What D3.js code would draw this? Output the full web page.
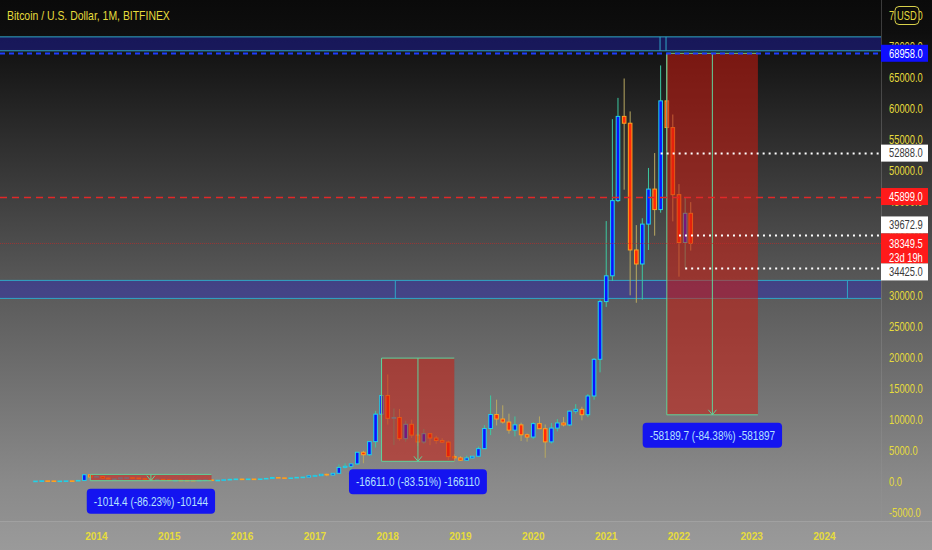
<!DOCTYPE html>
<html>
<head>
<meta charset="utf-8">
<script src="https://cdn.jsdelivr.net/npm/d3@7"></script>
<style>
html, body { margin: 0; padding: 0; background: #0a0a0a; overflow: hidden; }
text { font-family: "Liberation Sans", Arial, sans-serif; }
</style>
</head>
<body>
<svg id="chart" width="932" height="550"></svg>
<script>
/*  BTCUSD monthly, Bitfinex  */
var firstMonth = new Date(2013, 2, 1);   // March 2013, one candle per month after that

// Mar 2013 .. Mar 2022
var opens = [
  34, 93, 139, 129, 97, 106, 135, 133, 204, 1120,
  750, 830, 570, 450, 450, 630, 640, 585, 480, 390, 340, 380,
  320, 220, 255, 245, 235, 230, 263, 285, 230, 236, 315, 378,
  430, 370, 436, 416, 450, 530, 670, 620, 575, 610, 700, 740,
  965, 970, 1190, 1080, 1350, 2300, 2480, 2870, 4740, 4340, 6450, 10870,
  13880, 10200, 10330, 6930, 9240, 7500, 6390, 7730, 7030, 6630, 6370, 4040,
  3830, 3460, 3820, 4100, 5320, 8560, 10820, 10090, 9600, 8300, 9150, 7550,
  7190, 9350, 8530, 6410, 8630, 9450, 9140, 11350, 11650, 10780, 13800, 19700,
  28990, 33140, 45240, 58800, 57700, 37300, 35040, 41460, 47100, 43800, 61300, 57000,
  46200, 38500, 43200
];
var highs = [
  95, 266, 140, 130, 110, 140, 146, 215, 1165, 1176.4,
  1000, 860, 720, 540, 640, 680, 660, 600, 500, 420, 460, 390,
  320, 270, 300, 260, 245, 265, 315, 285, 245, 330, 500, 465,
  460, 440, 440, 465, 550, 780, 680, 630, 620, 720, 750, 980,
  1150, 1200, 1300, 1380, 2790, 2980, 2900, 4760, 4980, 6470, 11400, 19891,
  17250, 11780, 11700, 9800, 9990, 7800, 8500, 7760, 7400, 7000, 6600, 4400,
  4100, 4200, 4150, 5650, 9100, 13880, 13200, 12300, 10950, 10500, 9500, 7750,
  9570, 10500, 9200, 9460, 10070, 10400, 11450, 12480, 12070, 14100, 19900, 29300,
  41950, 58350, 61780, 64900, 59600, 41300, 42400, 50500, 52900, 67000, 68958, 59100,
  47900, 45800, 45000
];
var lows = [
  33, 50, 80, 65, 65, 100, 110, 100, 200, 480,
  740, 430, 440, 340, 425, 550, 560, 430, 370, 280, 320, 300,
  162, 210, 240, 215, 225, 220, 250, 200, 225, 235, 300, 350,
  350, 365, 395, 410, 440, 520, 600, 530, 570, 600, 680, 740,
  750, 920, 890, 1060, 1330, 2100, 1830, 2680, 2970, 4130, 5500, 10800,
  9200, 5900, 6600, 6430, 7050, 5750, 6080, 5880, 6100, 6200, 3500, 3280,
  3350, 3380, 3750, 4050, 5300, 7500, 9050, 9350, 7730, 7300, 6550, 6450,
  6860, 8450, 3850, 6150, 8100, 8900, 8950, 10950, 9880, 10400, 13200, 17600,
  28130, 32300, 45000, 47000, 30000, 28800, 29300, 37300, 39600, 43300, 53300, 41900,
  33000, 34425, 37200
];
var closes = [
  93, 139, 129, 97, 106, 135, 133, 204, 1120, 750,
  830, 570, 450, 450, 630, 640, 585, 480, 390, 340, 380, 320,
  220, 255, 245, 235, 230, 263, 285, 230, 236, 315, 378, 430,
  370, 436, 416, 450, 530, 670, 620, 575, 610, 700, 740, 965,
  970, 1190, 1080, 1350, 2300, 2480, 2870, 4740, 4340, 6450, 10870, 13880,
  10200, 10330, 6930, 9240, 7500, 6390, 7730, 7030, 6630, 6370, 4040, 3830,
  3460, 3820, 4100, 5320, 8560, 10820, 10090, 9600, 8300, 9150, 7550, 7190,
  9350, 8530, 6410, 8630, 9450, 9140, 11350, 11650, 10780, 13800, 19700, 28990,
  33140, 45240, 58800, 57700, 37300, 35040, 41460, 47100, 43800, 61300, 57000, 46200,
  38500, 43200, 38349.5
];

var yearTicks = [2014, 2015, 2016, 2017, 2018, 2019, 2020, 2021, 2022, 2023, 2024];
var priceTicks = [-5000, 0, 5000, 10000, 15000, 20000, 25000, 30000, 35000, 40000,
                  45000, 50000, 55000, 60000, 65000, 70000, 75000];

// drawn price range tools
var rangeFrom = [new Date(2013, 11, 1), new Date(2017, 11, 1), new Date(2021, 10, 1)];
var rangeTo   = [new Date(2015, 7, 1),  new Date(2018, 11, 1), new Date(2023, 1, 1)];
var rangeHigh = [1176.4, 19891, 68958];
var rangeLow  = [162, 3280, 10768.3];

// rectangles (zones)
var zoneLow  = [69355, 29500];
var zoneHigh = [71600, 32400];
var zoneSplits = [[new Date(2021, 8, 28), new Date(2021, 9, 28)], [new Date(2018, 1, 8), new Date(2024, 3, 25)]];

// horizontal levels and their axis tags
var levelValues = [68958, 52888, 45899, 39672.9, 38349.5, 34425];
var levelKinds  = ["ath", "ray", "dash", "ray", "last", "ray"];
var levelFrom   = [null, new Date(2021, 9, 1), null, new Date(2022, 0, 1), null, new Date(2022, 1, 1)];
var timeLeft = "23d 19h";

var svg = d3.select("#chart");
var W = 932, H = 550, axisX = 881, axisY = 521;

var x = d3.scaleTime()
  .domain([new Date(2014, 0, 1), new Date(2024, 0, 1)])
  .range([96.5, 824.5]);
var y = d3.scaleLinear()
  .domain([0, 70000])
  .range([481.7, 46.8]);

function monthDate(i) { return d3.timeMonth.offset(firstMonth, i); }

// squeeze text horizontally around its own anchor, the screenshot font is narrow
function squeeze(sel, k) {
  sel.attr("transform", function() {
    var xx = +d3.select(this).attr("x");
    return "matrix(" + k + ",0,0,1," + (xx * (1 - k)) + ",0)";
  });
  return sel;
}

// background
var defs = svg.append("defs");
var grad = defs.append("linearGradient").attr("id", "bg").attr("x1", 0).attr("y1", 0).attr("x2", 0).attr("y2", 1);
grad.append("stop").attr("offset", "0").attr("stop-color", "#0a0a0a");
grad.append("stop").attr("offset", "0.06").attr("stop-color", "#0e0e0e");
grad.append("stop").attr("offset", "0.5").attr("stop-color", "#565656");
grad.append("stop").attr("offset", "0.88").attr("stop-color", "#8a8a8a");
grad.append("stop").attr("offset", "1").attr("stop-color", "#959595");
svg.append("rect").attr("width", W).attr("height", H).attr("fill", "url(#bg)");
svg.append("rect").attr("x", 0).attr("y", axisY).attr("width", W).attr("height", H - axisY)
  .attr("fill", "rgba(255,255,255,0.05)");
svg.append("line").attr("x1", 0).attr("x2", W).attr("y1", axisY + 0.5).attr("y2", axisY + 0.5)
  .attr("stroke", "rgba(255,255,255,0.12)");
svg.append("line").attr("x1", axisX + 0.5).attr("x2", axisX + 0.5).attr("y1", 0).attr("y2", axisY)
  .attr("stroke", "rgba(150,150,150,0.35)");

// zones
var zones = svg.append("g");
zoneLow.forEach(function(lo, i) {
  var y0 = y(zoneHigh[i]), y1 = y(lo);
  zones.append("rect").attr("x", 0).attr("width", axisX).attr("y", y0).attr("height", y1 - y0)
    .attr("fill", "rgba(34,34,200,0.4)");
  [y0, y1].forEach(function(yy) {
    zones.append("line").attr("x1", 0).attr("x2", axisX).attr("y1", yy).attr("y2", yy)
      .attr("stroke", "#2fa6c6").attr("stroke-width", 1);
  });
  zoneSplits[i].forEach(function(d) {
    zones.append("line").attr("x1", x(d)).attr("x2", x(d)).attr("y1", y0).attr("y2", y1)
      .attr("stroke", "#2fa6c6").attr("stroke-width", 1);
  });
});

// candles
var bw = 3.6;
var idx = d3.range(opens.length);
function isUp(i) { return closes[i] >= opens[i]; }
var candles = svg.append("g").selectAll("g").data(idx).join("g");
candles.append("line")
  .attr("x1", function(i) { return x(monthDate(i)); })
  .attr("x2", function(i) { return x(monthDate(i)); })
  .attr("y1", function(i) { return y(highs[i]); })
  .attr("y2", function(i) { return y(lows[i]); })
  .attr("stroke", function(i) { return isUp(i) ? "#3cc8a0" : "#b8a860"; })
  .attr("stroke-width", 1);
candles.append("rect")
  .attr("x", function(i) { return x(monthDate(i)) - bw / 2; })
  .attr("y", function(i) { return y(Math.max(opens[i], closes[i])); })
  .attr("width", bw)
  .attr("height", function(i) { return Math.max(0.6, Math.abs(y(opens[i]) - y(closes[i]))); })
  .attr("fill", function(i) { return isUp(i) ? "#0a14ff" : "#ff2a0a"; })
  .attr("stroke", function(i) { return isUp(i) ? "#22d4e6" : "#ffa21e"; })
  .attr("stroke-width", 1);

// price range tools
var ranges = svg.append("g");
rangeHigh.forEach(function(hi, i) {
  var x0 = x(rangeFrom[i]), x1 = x(rangeTo[i]), y0 = y(hi), y1 = y(rangeLow[i]);
  var mid = (x0 + x1) / 2;
  ranges.append("rect").attr("x", x0).attr("y", y0).attr("width", x1 - x0).attr("height", y1 - y0)
    .attr("fill", "rgba(205,28,16,0.55)");
  ranges.append("path")
    .attr("d", "M" + x1 + "," + y0 + "H" + x0 + "V" + y1 + "H" + x1)
    .attr("fill", "none").attr("stroke", "#5fd39b").attr("stroke-width", 1);
  ranges.append("line").attr("x1", mid).attr("x2", mid).attr("y1", y0).attr("y2", y1)
    .attr("stroke", "#5fd39b").attr("stroke-width", 1);
  ranges.append("path")
    .attr("d", "M" + (mid - 4) + "," + (y1 - 5) + "L" + mid + "," + y1 + "L" + (mid + 4) + "," + (y1 - 5))
    .attr("fill", "none").attr("stroke", "#5fd39b").attr("stroke-width", 1);

  var diff = rangeLow[i] - hi;
  var label = diff.toFixed(1) + " (" + (diff / hi * 100).toFixed(2) + "%) " + Math.round(diff * 10);
  var lg = ranges.append("g");
  var bg = lg.append("rect").attr("y", y1 + 8).attr("height", 25).attr("rx", 4)
    .attr("fill", "#1414f0");
  var t = lg.append("text").attr("x", mid).attr("y", y1 + 20.5).attr("dy", "0.35em")
    .attr("text-anchor", "middle").attr("font-size", 12.5).attr("fill", "#b4e2ff").text(label);
  squeeze(t, 0.8);
  var tw = t.node().getComputedTextLength() * 0.8;
  bg.attr("x", mid - tw / 2 - 7).attr("width", tw + 14);
});

// horizontal levels
var levels = svg.append("g");
levelValues.forEach(function(v, i) {
  var k = levelKinds[i], yy = Math.round(y(v)) + 0.5;
  var x0 = levelFrom[i] ? x(levelFrom[i]) : 0;
  var ln = levels.append("line").attr("x1", x0).attr("x2", axisX).attr("y1", yy).attr("y2", yy);
  if (k == "ath") ln.attr("stroke", "#1e3cff").attr("stroke-width", 2).attr("stroke-dasharray", "5,4");
  if (k == "ray") ln.attr("stroke", "#ffffff").attr("stroke-width", 2).attr("stroke-dasharray", "2,4");
  if (k == "dash") ln.attr("stroke", "#e02828").attr("stroke-width", 1.5).attr("stroke-dasharray", "7,5");
  if (k == "last") ln.attr("stroke", "rgba(200,40,40,0.6)").attr("stroke-width", 1).attr("stroke-dasharray", "1,1");
});

// right price axis
var axis = svg.append("g");
squeeze(axis.selectAll("text.tick").data(priceTicks).join("text")
  .attr("class", "tick")
  .attr("x", 889).attr("y", function(d) { return y(d); }).attr("dy", "0.35em")
  .attr("font-size", 12.5).attr("fill", "#e6dc3c")
  .text(function(d) { return d.toFixed(1); }), 0.75);

// USD badge
axis.append("rect").attr("x", 895).attr("y", 6.5).attr("width", 24).attr("height", 18).attr("rx", 4)
  .attr("fill", "#0c0c0c").attr("stroke", "#d8d04a").attr("stroke-width", 1);
squeeze(axis.append("text").attr("x", 907).attr("y", 15.5).attr("dy", "0.35em").attr("text-anchor", "middle")
  .attr("font-size", 12.5).attr("fill", "#e6dc3c").text("USD"), 0.75);

// axis tags, the current price tag is two lines and pushes its neighbours away
var lastI = levelKinds.indexOf("last"), lastV = levelValues[lastI];
var lastTop = y(lastV) - 10, lastBottom = lastTop + 30;
function tagText(xx, yy, str, col) {
  return squeeze(axis.append("text").attr("x", xx).attr("y", yy).attr("dy", "0.35em")
    .attr("font-size", 12.5).attr("fill", col).text(str), 0.75);
}
levelValues.forEach(function(v, i) {
  var k = levelKinds[i], yc = y(v), h = 17;
  if (k == "last") {
    axis.append("rect").attr("x", axisX).attr("y", lastTop).attr("width", 47).attr("height", 30)
      .attr("fill", "#ff1a1a");
    tagText(889, yc, v.toFixed(1), "#ffffff");
    tagText(889, yc + 14, timeLeft, "#ffffff");
    return;
  }
  if (v > lastV && yc + h / 2 > lastTop) yc = lastTop - h / 2;
  if (v < lastV && yc - h / 2 < lastBottom) yc = lastBottom + h / 2;
  var bgc = k == "ath" ? "#0f0fff" : k == "dash" ? "#ff1a1a" : "#ffffff";
  var fgc = k == "ray" ? "#3a3a3a" : "#ffffff";
  axis.append("rect").attr("x", axisX).attr("y", yc - h / 2).attr("width", 47).attr("height", h)
    .attr("fill", bgc);
  tagText(889, yc, v.toFixed(1), fgc);
});

// time axis
squeeze(svg.append("g").selectAll("text").data(yearTicks).join("text")
  .attr("x", function(d) { return x(new Date(d, 0, 1)); })
  .attr("y", 540)
  .attr("text-anchor", "middle")
  .attr("font-size", 11.5).attr("font-weight", "bold").attr("fill", "#e6dc3c")
  .text(function(d) { return d; }), 0.88);

// title
squeeze(svg.append("text").attr("x", 7).attr("y", 20.5)
  .attr("font-size", 12).attr("fill", "#e6dc3c")
  .text("Bitcoin / U.S. Dollar, 1M, BITFINEX"), 0.87);
</script>
</body>
</html>
